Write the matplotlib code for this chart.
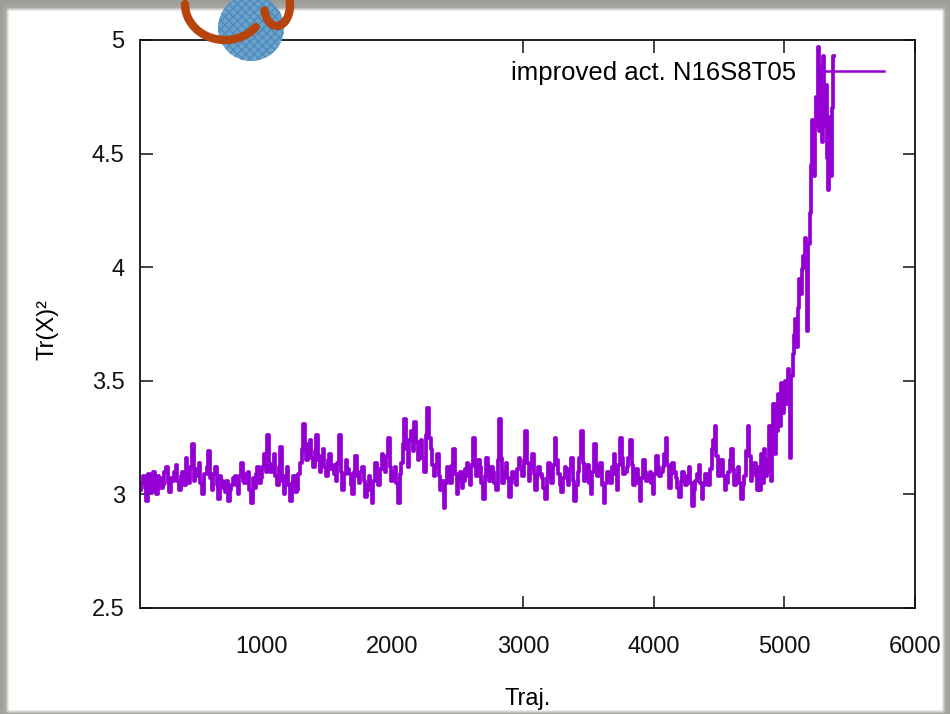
import numpy as np
import matplotlib
matplotlib.use("Agg")
import matplotlib.pyplot as plt
from matplotlib.patches import Circle

plt.rcParams['font.family'] = ['Liberation Sans', 'DejaVu Sans']

# trajectory numbers: every 25 traj on the plateau, every 10 on the rise
traj_flat = np.arange(75, 4801, 25)
trx_flat = [
    3.02, 3.08, 2.97, 3.06, 3.10, 3.00, 3.07, 3.04, 3.12, 3.01,
    3.06, 3.13, 3.02, 3.10, 3.16, 3.05, 3.22, 3.08, 3.14, 3.00,
    3.09, 3.19, 3.02, 3.12, 2.98, 3.06, 3.01, 2.97, 3.04, 3.08,
    3.00, 3.14, 3.05, 3.10, 2.96, 3.03, 3.12, 3.07, 3.18, 3.26,
    3.10, 3.18, 3.04, 3.21, 3.00, 3.12, 2.97, 3.08, 3.02, 3.14,
    3.31, 3.15, 3.24, 3.12, 3.26, 3.10, 3.20, 3.08, 3.18, 3.13,
    3.06, 3.26, 3.02, 3.15, 3.09, 3.00, 3.17, 3.05, 3.12, 2.99,
    3.08, 2.96, 3.14, 3.04, 3.18, 3.10, 3.25, 3.06, 3.12, 2.96,
    3.14, 3.33, 3.12, 3.28, 3.32, 3.15, 3.24, 3.10, 3.38, 3.20,
    3.08, 3.18, 3.02, 2.94, 3.12, 3.05, 3.20, 3.00, 3.10, 3.06,
    3.14, 3.04, 3.25, 3.08, 3.12, 2.98, 3.16, 3.06, 3.10, 3.02,
    3.33, 3.05, 3.14, 2.99, 3.10, 3.04, 3.16, 3.08, 3.28, 3.06,
    3.18, 3.02, 3.12, 3.07, 2.98, 3.14, 3.05, 3.25, 3.09, 3.01,
    3.12, 3.04, 3.16, 2.97, 3.10, 3.28, 3.06, 3.13, 3.00, 3.22,
    3.08, 3.14, 2.96, 3.10, 3.05, 3.18, 3.02, 3.25, 3.09, 3.12,
    3.24, 3.04, 3.11, 2.97, 3.15, 3.06, 3.10, 3.00, 3.17, 3.08,
    3.12, 3.25, 3.03, 3.14, 3.07, 2.99, 3.10, 3.04, 3.12, 2.95,
    3.06, 3.13, 2.98, 3.09, 3.04, 3.20, 3.30, 3.08, 3.15, 3.02,
    3.10, 3.20, 3.04, 3.12, 2.98, 3.08, 3.30, 3.06, 3.14, 3.02,
]
# in-between readings (shifted by half a step) to fill the band
traj_mid = np.arange(87, 4801, 25)
trx_mid = [
    3.05, 3.03, 3.09, 3.01, 3.05, 3.08, 3.03, 3.10, 3.05, 3.07,
    3.10, 3.06, 3.08, 3.04, 3.09, 3.12, 3.06, 3.11, 3.05, 3.09,
    3.12, 3.07, 3.09, 3.04, 3.08, 3.03, 3.06, 3.02, 3.07, 3.04,
    3.08, 3.06, 3.09, 3.02, 3.07, 3.09, 3.05, 3.12, 3.10, 3.14,
    3.13, 3.08, 3.12, 3.06, 3.08, 3.04, 3.05, 3.01, 3.09, 3.20,
    3.19, 3.22, 3.16, 3.19, 3.15, 3.17, 3.12, 3.15, 3.11, 3.09,
    3.14, 3.10, 3.09, 3.11, 3.04, 3.10, 3.08, 3.10, 3.06, 3.04,
    3.02, 3.06, 3.09, 3.11, 3.13, 3.17, 3.12, 3.10, 3.05, 3.09,
    3.22, 3.20, 3.24, 3.19, 3.23, 3.18, 3.16, 3.26, 3.25, 3.13,
    3.12, 3.08, 3.06, 3.05, 3.08, 3.13, 3.09, 3.06, 3.03, 3.11,
    3.08, 3.13, 3.12, 3.15, 3.05, 3.08, 3.10, 3.12, 3.05, 3.15,
    3.16, 3.10, 3.07, 3.05, 3.07, 3.11, 3.12, 3.15, 3.14, 3.12,
    3.09, 3.08, 3.09, 3.03, 3.07, 3.09, 3.13, 3.15, 3.04, 3.07,
    3.09, 3.11, 3.06, 3.04, 3.16, 3.14, 3.09, 3.05, 3.10, 3.13,
    3.11, 3.04, 3.05, 3.08, 3.12, 3.09, 3.13, 3.16, 3.10, 3.16,
    3.13, 3.08, 3.05, 3.07, 3.10, 3.08, 3.05, 3.09, 3.12, 3.10,
    3.18, 3.13, 3.09, 3.10, 3.03, 3.06, 3.07, 3.08, 3.05, 3.02,
    3.09, 3.05, 3.04, 3.06, 3.11, 3.24, 3.17, 3.11, 3.08, 3.05,
    3.15, 3.11, 3.08, 3.05, 3.04, 3.19, 3.17, 3.10, 3.08, 3.07,
]
traj_rise = np.arange(4810, 5381, 10)
trx_rise = [
    3.12, 3.02, 3.18, 3.05, 3.20, 3.08, 3.15, 3.10,
    3.30, 3.06,
    3.22, 3.40, 3.18, 3.35, 3.28, 3.44, 3.30, 3.49, 3.36, 3.42,
    3.50, 3.40, 3.55, 3.45, 3.16, 3.52, 3.62, 3.70, 3.77, 3.65,
    3.82, 3.95, 3.88, 3.99, 4.05, 4.13, 4.00, 3.72, 4.10, 4.24,
    4.45, 4.65, 4.40, 4.62, 4.75, 4.97, 4.60, 4.88, 4.55, 4.93,
    4.62, 4.80, 4.48, 4.34, 4.66, 4.40, 4.70, 4.93,
]
t_flat = np.concatenate([traj_flat, traj_mid])
v_flat = np.array(trx_flat + trx_mid)
order = np.argsort(t_flat, kind='stable')
traj = np.concatenate([t_flat[order], traj_rise])
trx2 = np.concatenate([v_flat[order], trx_rise])

label = "improved act. N16S8T05"
xticks = [1000, 2000, 3000, 4000, 5000, 6000]
yticks = [2.5, 3, 3.5, 4, 4.5, 5]

W, H = 950, 714
fig = plt.figure(figsize=(W / 100, H / 100), dpi=100)
fig.patch.set_facecolor('white')

# grey screenshot frame behind everything
bg = fig.add_axes([0, 0, 1, 1], zorder=-5)
yy, xx = np.mgrid[0:H, 0:W]
dx = np.maximum.reduce([9 - xx, np.zeros_like(xx), xx - 941])
dy = np.maximum.reduce([11 - yy, np.zeros_like(yy), yy - 709])
d = np.hypot(dx, dy)
shade = np.clip(d / 4.0, 0, 1)
grey = 0.70 - 0.08 * np.clip(d / 10.0, 0, 1)
img = np.ones((H, W, 3))
for c, k in enumerate([1.0, 0.99, 0.96]):
    img[..., c] = 1 - shade + shade * grey * k
bg.imshow(img, extent=(0, W, H, 0), aspect='auto', interpolation='bilinear')
bg.set_xlim(0, W)
bg.set_ylim(H, 0)
bg.axis('off')

ax = fig.add_axes([140 / W, 1 - 608 / H, (915 - 140) / W, (608 - 40) / H])
ax.plot(traj, trx2, color='#9400d3', lw=2.7, drawstyle='steps-mid', label=label)
ax.set_xlim(70, 6000)
ax.set_ylim(2.5, 5)
ax.set_xticks(xticks)
ax.set_xticklabels([str(t) for t in xticks])
ax.set_yticks(yticks)
ax.set_yticklabels(['2.5', '3', '3.5', '4', '4.5', '5'])
ax.tick_params(axis='both', direction='in', length=9, width=1.1, labelsize=17,
               top=True, right=True, colors='#111111')
ax.tick_params(axis='x', pad=20)
ax.tick_params(axis='y', pad=11)
for t in ax.xaxis.get_major_ticks()[:2]:
    t.tick1line.set_visible(False)
    t.tick2line.set_visible(False)
for s in ax.spines.values():
    s.set_linewidth(1.3)
    s.set_color('#111111')

ax.set_xlabel("Traj.", fontsize=17)
ax.xaxis.set_label_coords(0.5, -0.14)
ax.set_ylabel("Tr(X)²", fontsize=17)
ax.yaxis.set_label_coords(-0.105, 0.49)

leg = ax.legend(loc='upper right', bbox_to_anchor=(0.986, 1.0), frameon=False,
                fontsize=18.5, markerfirst=False, handlelength=2.4,
                handletextpad=1.0, borderaxespad=0.4)
for h in leg.get_lines():
    h.set_linewidth(1.8)

# logo in the top left corner
fg = fig.add_axes([0, 0, 1, 1], zorder=5)
fg.set_xlim(0, W)
fg.set_ylim(H, 0)
fg.axis('off')
fg.add_patch(Circle((251, 28), 33, facecolor='#6aa3cc', edgecolor='#4f8bbb',
                    hatch='xxxx', lw=0))
t1 = np.radians(np.linspace(180, 40, 60))
fg.plot(225 + 40 * np.cos(t1), 4 + 36 * np.sin(t1), color='#b5440d', lw=6,
        solid_capstyle='round')
t2 = np.radians(np.linspace(165, -15, 60))
fg.plot(277 + 13 * np.cos(t2), 5 + 21 * np.sin(t2), color='#b5440d', lw=6,
        solid_capstyle='round')

fig.savefig("out.png", dpi=100)
